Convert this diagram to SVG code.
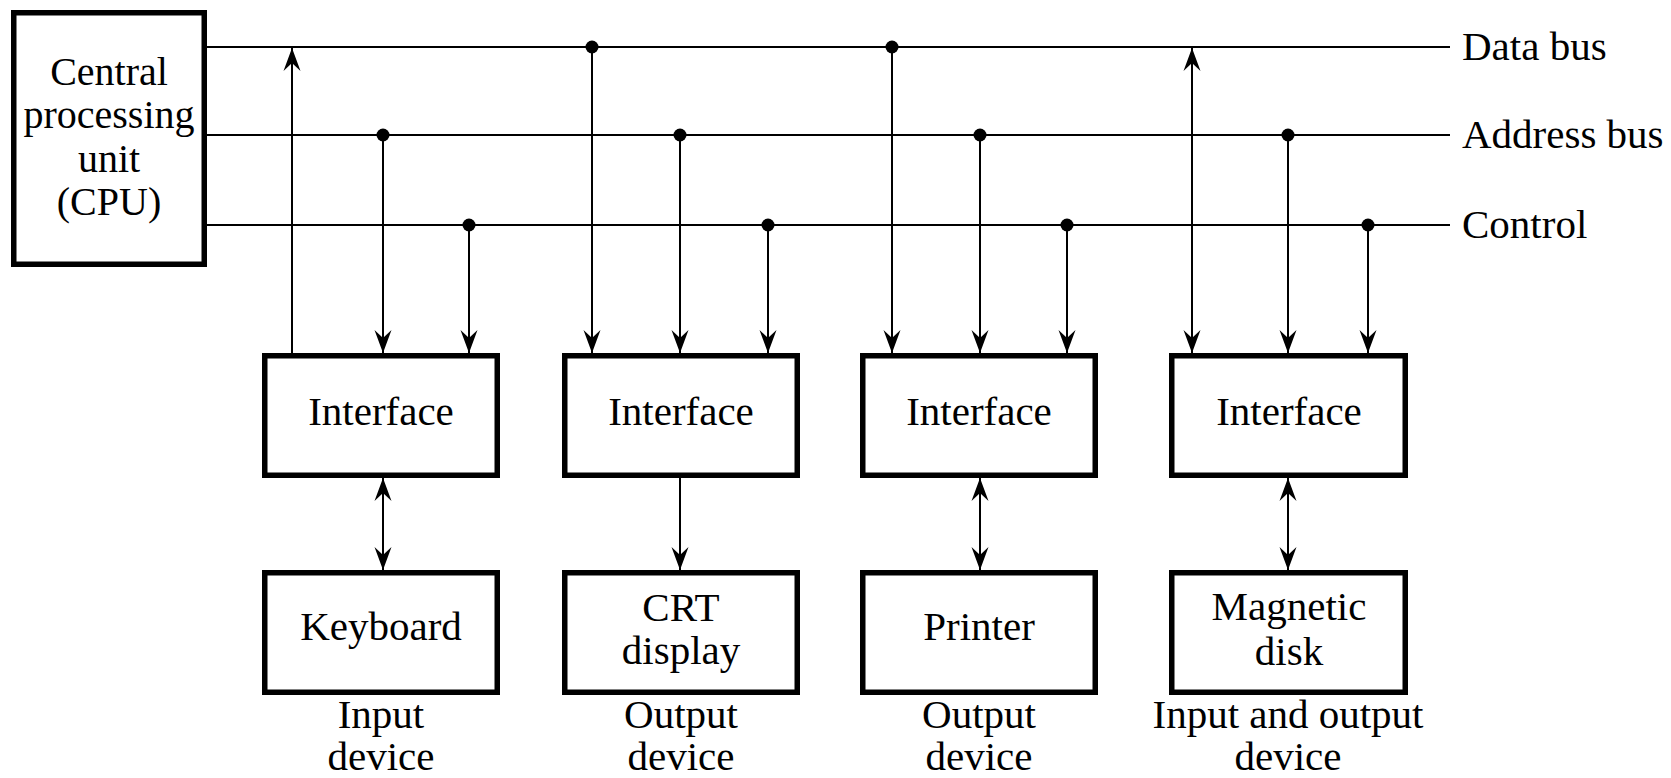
<svg xmlns="http://www.w3.org/2000/svg" width="1671" height="778" viewBox="0 0 1671 778">
<style>
.box{fill:#fff;stroke:#000;stroke-width:5.5}
.ln{fill:none;stroke:#000;stroke-width:2}
.arr{marker-end:url(#ah)}
.bi{marker-start:url(#ahs);marker-end:url(#ah)}
.dot{fill:#000}
text{font-family:"Liberation Serif","Times New Roman",serif;font-size:41px;fill:#000}
.c{text-anchor:middle}
.cpu{font-size:40px}
</style>
<defs>
<marker id="ah" viewBox="-24 -10 26 20" refX="0" refY="0" markerWidth="26" markerHeight="20" markerUnits="userSpaceOnUse" orient="auto">
<path d="M0,0 L-23,-8.5 L-15,0 L-23,8.5 Z" fill="#000"/>
</marker>
<marker id="ahs" viewBox="-24 -10 26 20" refX="0" refY="0" markerWidth="26" markerHeight="20" markerUnits="userSpaceOnUse" orient="auto-start-reverse">
<path d="M0,0 L-23,-8.5 L-15,0 L-23,8.5 Z" fill="#000"/>
</marker>
</defs>
<rect width="1671" height="778" fill="#fff"/>
<g id="connectors">
<line class="ln" x1="207" y1="47" x2="1450" y2="47"/>
<line class="ln" x1="207" y1="135" x2="1450" y2="135"/>
<line class="ln" x1="207" y1="225" x2="1450" y2="225"/>
<line class="ln arr" x1="292" y1="353" x2="292" y2="48"/>
<line class="ln arr" x1="383" y1="135" x2="383" y2="353"/>
<line class="ln arr" x1="469" y1="225" x2="469" y2="353"/>
<line class="ln bi" x1="383" y1="478" x2="383" y2="570"/>
<line class="ln arr" x1="592" y1="47" x2="592" y2="353"/>
<line class="ln arr" x1="680" y1="135" x2="680" y2="353"/>
<line class="ln arr" x1="768" y1="225" x2="768" y2="353"/>
<line class="ln arr" x1="680" y1="478" x2="680" y2="570"/>
<line class="ln arr" x1="892" y1="47" x2="892" y2="353"/>
<line class="ln arr" x1="980" y1="135" x2="980" y2="353"/>
<line class="ln arr" x1="1067" y1="225" x2="1067" y2="353"/>
<line class="ln bi" x1="980" y1="478" x2="980" y2="570"/>
<line class="ln bi" x1="1192" y1="48" x2="1192" y2="353"/>
<line class="ln arr" x1="1288" y1="135" x2="1288" y2="353"/>
<line class="ln arr" x1="1368" y1="225" x2="1368" y2="353"/>
<line class="ln bi" x1="1288" y1="478" x2="1288" y2="570"/>
<circle class="dot" cx="383" cy="135" r="6.5"/>
<circle class="dot" cx="469" cy="225" r="6.5"/>
<circle class="dot" cx="592" cy="47" r="6.5"/>
<circle class="dot" cx="680" cy="135" r="6.5"/>
<circle class="dot" cx="768" cy="225" r="6.5"/>
<circle class="dot" cx="892" cy="47" r="6.5"/>
<circle class="dot" cx="980" cy="135" r="6.5"/>
<circle class="dot" cx="1067" cy="225" r="6.5"/>
<circle class="dot" cx="1288" cy="135" r="6.5"/>
<circle class="dot" cx="1368" cy="225" r="6.5"/>
</g>
<g id="bus-labels">
<text x="1462" y="60">Data bus</text>
<text x="1462" y="148">Address bus</text>
<text x="1462" y="238">Control</text>
</g>
<g id="cpu">
<rect class="box" x="13.75" y="12.75" width="190.5" height="251.5"/>
<text class="c cpu" x="109" y="85">Central</text>
<text class="c cpu" x="109" y="128">processing</text>
<text class="c cpu" x="109" y="172">unit</text>
<text class="c cpu" x="109" y="215">(CPU)</text>
</g>
<g id="interface1">
<rect class="box" x="264.75" y="355.75" width="232.5" height="119.5"/>
<text class="c" x="381" y="425">Interface</text>
</g>
<g id="interface2">
<rect class="box" x="564.75" y="355.75" width="232.5" height="119.5"/>
<text class="c" x="681" y="425">Interface</text>
</g>
<g id="interface3">
<rect class="box" x="862.75" y="355.75" width="232.5" height="119.5"/>
<text class="c" x="979" y="425">Interface</text>
</g>
<g id="interface4">
<rect class="box" x="1171.75" y="355.75" width="233.5" height="119.5"/>
<text class="c" x="1289" y="425">Interface</text>
</g>
<g id="keyboard">
<rect class="box" x="264.75" y="572.75" width="232.5" height="119.5"/>
<text class="c" x="381" y="640">Keyboard</text>
</g>
<g id="crt">
<rect class="box" x="564.75" y="572.75" width="232.5" height="119.5"/>
<text class="c" x="681" y="621">CRT</text>
<text class="c" x="681" y="664">display</text>
</g>
<g id="printer">
<rect class="box" x="862.75" y="572.75" width="232.5" height="119.5"/>
<text class="c" x="979" y="640">Printer</text>
</g>
<g id="disk">
<rect class="box" x="1171.75" y="572.75" width="233.5" height="119.5"/>
<text class="c" x="1289" y="620">Magnetic</text>
<text class="c" x="1289" y="665">disk</text>
</g>
<g id="device-labels">
<text class="c" x="381" y="728">Input</text>
<text class="c" x="381" y="770">device</text>
<text class="c" x="681" y="728">Output</text>
<text class="c" x="681" y="770">device</text>
<text class="c" x="979" y="728">Output</text>
<text class="c" x="979" y="770">device</text>
<text class="c" x="1288" y="728">Input and output</text>
<text class="c" x="1288" y="770">device</text>
</g>
</svg>
